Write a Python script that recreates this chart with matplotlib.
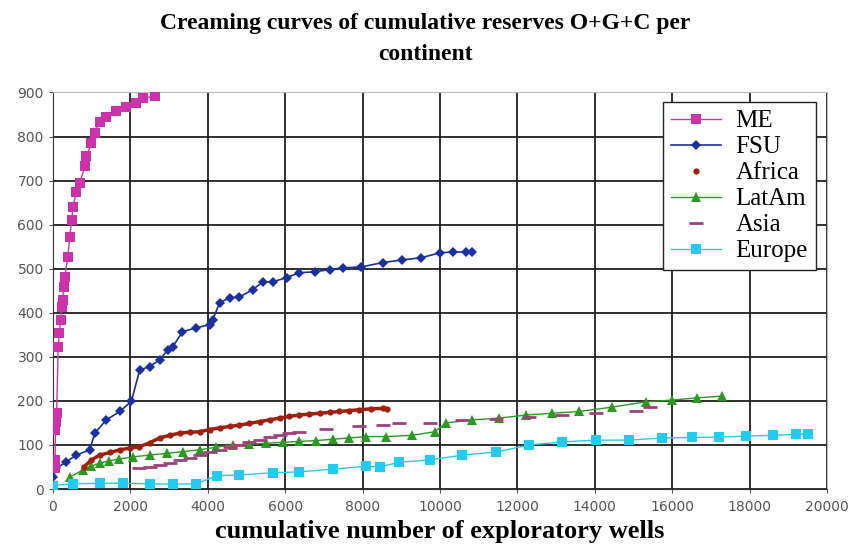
import numpy as np
import matplotlib.pyplot as plt

# values (wells, reserves)
me_x = [0, 50, 60, 70, 80, 100, 140, 170, 200, 230, 260, 280, 310, 390, 440, 490, 520, 610, 700,
        825, 870, 1000, 1085, 1210, 1385, 1640, 1900, 2160, 2330, 2630]
me_y = [62, 48, 66, 134, 152, 172, 323, 354, 384, 414, 430, 459, 482, 527, 573, 611, 641, 673, 695,
        732, 755, 786, 809, 832, 845, 857, 866, 877, 888, 891]

fsu_x = [10, 95, 350, 610, 955, 1085, 1385, 1730, 2030, 2245, 2500, 2760, 2970, 3100, 3350, 3710,
         4050, 4130, 4310, 4570, 4820, 5160, 5420, 5680, 6040, 6370, 6760, 7150, 7490, 7970, 8520,
         9030, 9520, 9990, 10330, 10680, 10840]
fsu_y = [28, 47, 62, 77, 89, 127, 157, 176, 199, 270, 278, 293, 316, 323, 357, 366, 373, 384, 423,
         434, 436, 452, 470, 470, 480, 491, 493, 498, 502, 504, 514, 520, 525, 536, 538, 538, 538]

africa_x = [800, 1000, 1210, 1480, 1730, 1990, 2240, 2500, 2760, 3020, 3280, 3540, 3790, 4050,
            4310, 4570, 4820, 5080, 5340, 5600, 5860, 6110, 6370, 6630, 6890, 7150, 7400, 7660,
            7920, 8220, 8520, 8620]
africa_y = [50, 66, 77, 83, 89, 93, 96, 105, 116, 122, 127, 129, 130, 135, 139, 142, 145, 149, 153,
            157, 161, 165, 168, 170, 172, 174, 176, 178, 180, 182, 183, 182]

asia_x = [2240, 2500, 2760, 3020, 3280, 3540, 3790, 4050, 4310, 4570, 4820, 5080, 5340, 5600, 5860,
          6110, 6370, 7060, 7920, 8520, 8950, 9730, 10580, 11450, 12310, 13160, 14030, 15070, 15430]
asia_y = [48, 51, 55, 60, 66, 71, 77, 83, 89, 95, 100, 106, 111, 117, 123, 127, 130, 136, 143, 145,
          150, 151, 157, 159, 164, 168, 172, 176, 186]

latam_x = [440, 775, 1000, 1210, 1450, 1700, 2065, 2500, 2940, 3370, 3790, 4220, 4650, 5080, 5520,
           5950, 6370, 6800, 7230, 7660, 8100, 8610, 9290, 9860, 10160, 10840, 11530, 12230, 12900,
           13600, 14450, 15320, 16000, 16650, 17290]
latam_y = [27, 43, 52, 59, 64, 68, 73, 77, 81, 85, 89, 95, 100, 102, 104, 106, 108, 110, 113, 116,
           119, 119, 122, 130, 150, 157, 161, 168, 172, 176, 186, 198, 202, 207, 211]

europe_x = [0, 520, 1210, 1810, 2500, 3100, 3710, 4230, 4820, 5680, 6370, 7230, 8100, 8440, 8950,
            9730, 10580, 11450, 12310, 13160, 14030, 14890, 15740, 16500, 17200, 17900, 18600,
            19200, 19500]
europe_y = [8, 12, 13, 13, 12, 11, 12, 30, 32, 37, 39, 45, 52, 50, 61, 66, 77, 84, 100, 107, 111,
            111, 116, 117, 118, 120, 122, 124, 125]

plt.rcParams['font.family'] = ['DejaVu Sans']

fig = plt.figure(figsize=(8.51, 5.57), dpi=100)
ax = fig.add_axes([0.062, 0.122, 0.910, 0.712])

ax.plot(me_x, me_y, color="#cc33aa", linewidth=1.0, marker="s", markersize=6.5,
        markeredgewidth=0, label="ME", zorder=6)
ax.plot(fsu_x, fsu_y, color="#1a2fa0", linewidth=1.2, marker="D", markersize=5,
        markeredgewidth=0, label="FSU", zorder=5)
ax.plot(africa_x, africa_y, color="#a02010", linewidth=2.5, zorder=4)
ax.plot(africa_x, africa_y, color="#a02010", linestyle="none", marker="o", markersize=4.5,
        markeredgewidth=0, label="Africa", zorder=4)
ax.plot(latam_x, latam_y, color="#2a9a20", linewidth=1.0, marker="^", markersize=6.5,
        markeredgewidth=0, label="LatAm", zorder=3)
ax.plot(asia_x, asia_y, color="#a0407a", linestyle="none", marker="_", markersize=10,
        markeredgewidth=2, label="Asia", zorder=4)
ax.plot(europe_x, europe_y, color="#22ccf0", linewidth=1.0, marker="s", markersize=6.5,
        markeredgewidth=0, label="Europe", zorder=3)

ax.set_xlim(0, 20000)
ax.set_ylim(0, 900)
ax.set_xticks(np.arange(0, 20001, 2000))
ax.set_yticks(np.arange(0, 901, 100))
ax.grid(True, color="#202020", linewidth=1.3)
ax.set_axisbelow(True)
ax.tick_params(colors="#555555", labelsize=10, length=3)
ax.tick_params(axis="x", pad=5)
for s in ["top", "right"]:
    ax.spines[s].set_color("#bbbbbb")
for s in ["left", "bottom"]:
    ax.spines[s].set_color("#333333")

ax.set_xlabel("cumulative number of exploratory wells", fontsize=19, fontweight="bold",
              family="Liberation Serif", labelpad=4)
fig.suptitle("Creaming curves of cumulative reserves O+G+C per\ncontinent", fontsize=17,
             fontweight="bold", family="Liberation Serif", y=0.977, linespacing=1.65)

leg = ax.legend(loc="upper right", bbox_to_anchor=(0.985, 0.975), borderaxespad=0,
                fancybox=False, edgecolor="#222222", framealpha=1, borderpad=0.3,
                handlelength=2.0, handletextpad=0.6, labelspacing=0.14,
                prop={"family": "Liberation Serif", "size": 18})
leg.get_frame().set_linewidth(1.0)

plt.savefig("out.png", dpi=100)
